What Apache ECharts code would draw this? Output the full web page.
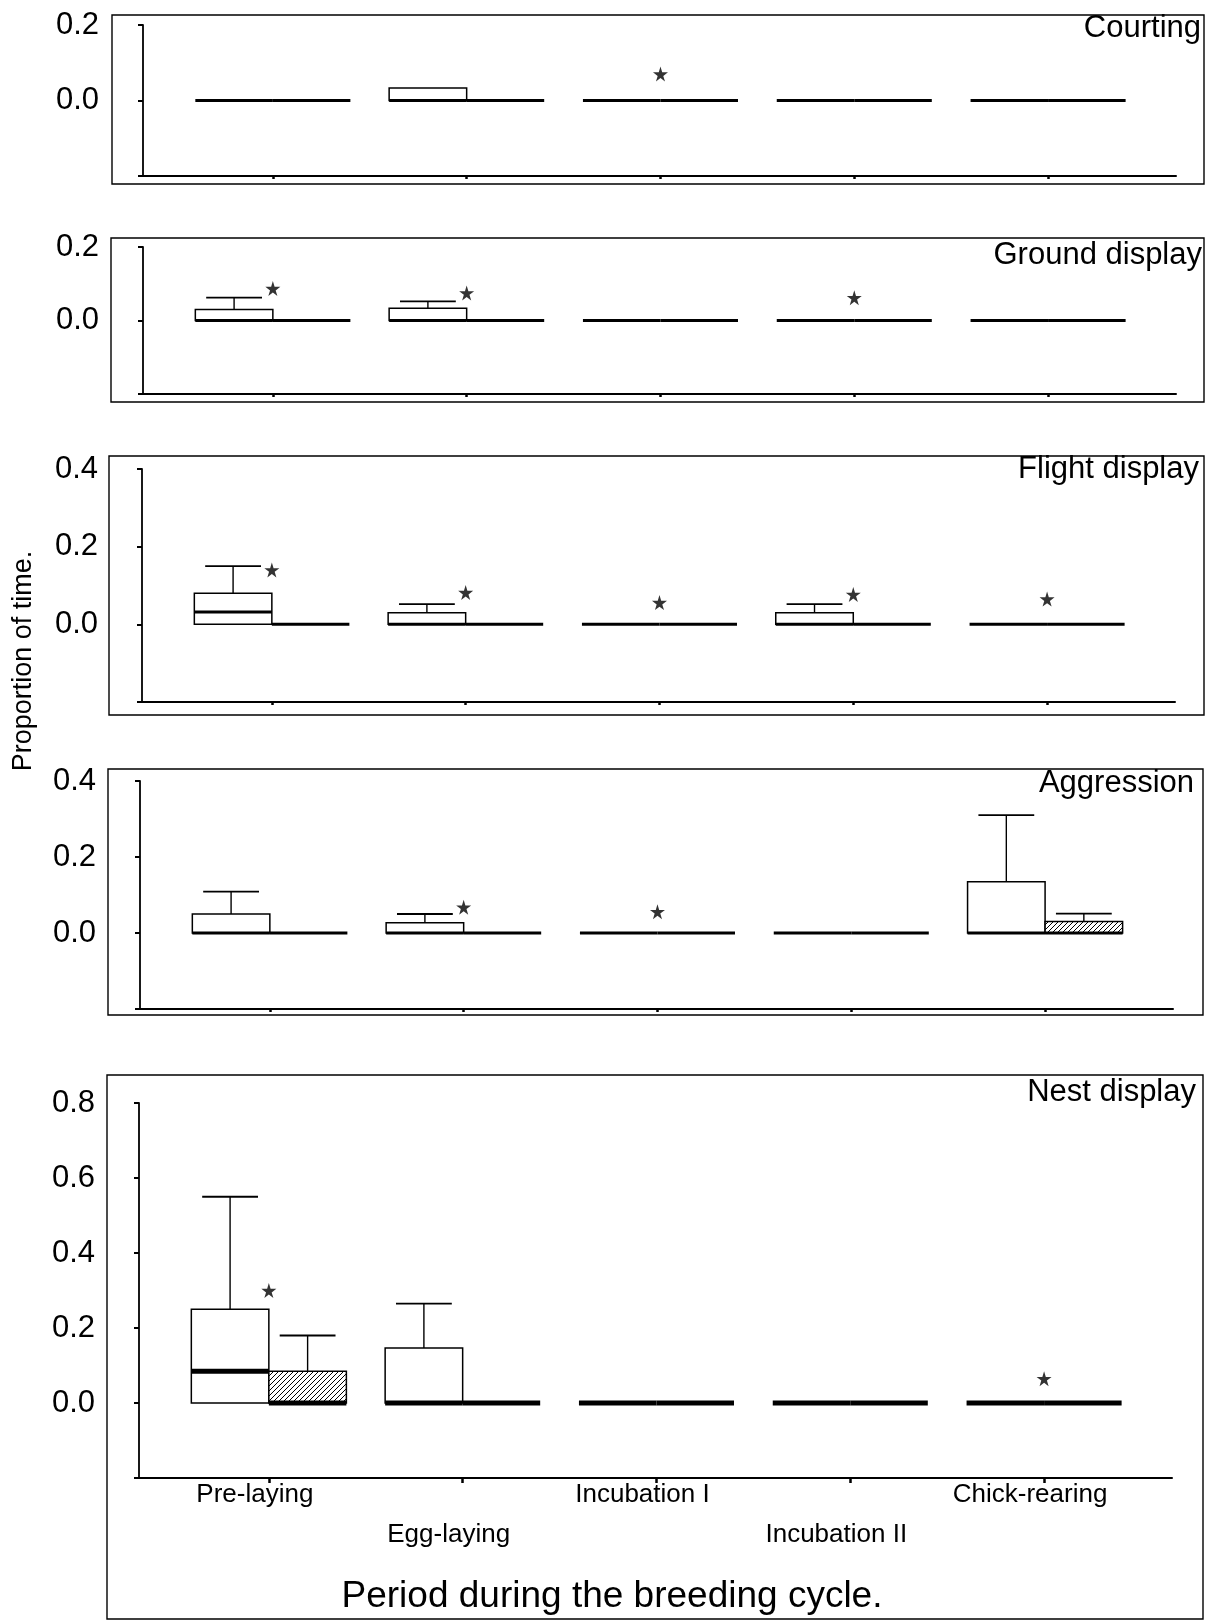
<!DOCTYPE html>
<html>
<head>
<meta charset="UTF-8">
<title>Proportion of time by breeding period</title>
<script src="https://cdn.jsdelivr.net/npm/echarts@6/dist/echarts.min.js"></script>
<style>
  body { margin: 0; background: #fff; }
  #chart { width: 1206px; height: 1621px; }
</style>
</head>
<body>
<div id="chart"></div>
<script>
// ---- data ----
var periods = ['Pre-laying', 'Egg-laying', 'Incubation I', 'Incubation II', 'Chick-rearing'];
var panelTitles = ['Courting', 'Ground display', 'Flight display', 'Aggression', 'Nest display'];
var yMax = [0.2, 0.2, 0.4, 0.4, 0.8];

// one entry per period: [upper quartile, median, upper whisker]  (lower whisker / Q1 = 0)
var courtingMale     = [[0, 0, 0], [0.033, 0, 0.033], [0, 0, 0], [0, 0, 0], [0, 0, 0]];
var courtingFemale   = [[0, 0, 0], [0, 0, 0], [0, 0, 0], [0, 0, 0], [0, 0, 0]];
var courtingStars    = [null, null, 0.07, null, null];

var groundMale       = [[0.03, 0, 0.062], [0.033, 0, 0.052], [0, 0, 0], [0, 0, 0], [0, 0, 0]];
var groundFemale     = [[0, 0, 0], [0, 0, 0], [0, 0, 0], [0, 0, 0], [0, 0, 0]];
var groundStars      = [0.087, 0.075, null, 0.062, null];

var flightMale       = [[0.08, 0.032, 0.15], [0.03, 0, 0.052], [0, 0, 0], [0.03, 0, 0.052], [0, 0, 0]];
var flightFemale     = [[0, 0, 0], [0, 0, 0], [0, 0, 0], [0, 0, 0], [0, 0, 0]];
var flightStars      = [0.14, 0.082, 0.056, 0.077, 0.065];

var aggressionMale   = [[0.05, 0, 0.109], [0.027, 0, 0.05], [0, 0, 0], [0, 0, 0], [0.135, 0, 0.31]];
var aggressionFemale = [[0, 0, 0], [0, 0, 0], [0, 0, 0], [0, 0, 0], [0.03, 0, 0.051]];
var aggressionStars  = [null, 0.068, 0.056, null, null];

var nestMale         = [[0.25, 0.085, 0.55], [0.147, 0, 0.265], [0, 0, 0], [0, 0, 0], [0, 0, 0]];
var nestFemale       = [[0.085, 0, 0.18], [0, 0, 0], [0, 0, 0], [0, 0, 0], [0, 0, 0]];
var nestStars        = [0.30, null, null, null, 0.065];

var maleData   = [courtingMale, groundMale, flightMale, aggressionMale, nestMale];
var femaleData = [courtingFemale, groundFemale, flightFemale, aggressionFemale, nestFemale];
var starData   = [courtingStars, groundStars, flightStars, aggressionStars, nestStars];

// ---- layout (pixels) ----
var layout = [
  { gridLeft: 143, gridTop: 25,   gridH: 151, frame: [112, 15, 1092, 169],  titleX: 1201, titleY: 28,   medW: 3 },
  { gridLeft: 143, gridTop: 247,  gridH: 147, frame: [111, 238, 1093, 164], titleX: 1202, titleY: 255,  medW: 3 },
  { gridLeft: 142, gridTop: 469,  gridH: 233, frame: [109, 456, 1095, 259], titleX: 1199, titleY: 469,  medW: 3 },
  { gridLeft: 140, gridTop: 781,  gridH: 228, frame: [108, 769, 1095, 246], titleX: 1194, titleY: 783,  medW: 3 },
  { gridLeft: 139, gridTop: 1103, gridH: 375, frame: [107, 1075, 1096, 544], titleX: 1196, titleY: 1092, medW: 5 }
];
var FONT = '"Liberation Sans", Arial, sans-serif';

// hatch pattern for the second (hatched) box of each pair
var hatch = document.createElement('canvas');
hatch.width = 5; hatch.height = 5;
(function () {
  var c = hatch.getContext('2d');
  c.fillStyle = '#fff'; c.fillRect(0, 0, 5, 5);
  c.strokeStyle = '#000'; c.lineWidth = 1;
  c.beginPath();
  c.moveTo(0, 5); c.lineTo(5, 0);
  c.moveTo(-1, 1); c.lineTo(1, -1);
  c.moveTo(4, 6); c.lineTo(6, 4);
  c.stroke();
})();

function renderBox(params, api) {
  var period = api.value(0), sex = api.value(1);
  var q3 = api.value(2), med = api.value(3), mx = api.value(4);
  var medW = api.value(5);
  var base = api.coord([period, 0]);
  var cx = base[0], y0 = base[1];
  var w = api.size([0.4, 0])[0];
  var x0 = sex === 0 ? cx - w : cx;
  var yq = api.coord([period, q3])[1];
  var ym = api.coord([period, med])[1];
  var yx = api.coord([period, mx])[1];
  var bx = x0 + w / 2;
  var children = [];
  if (mx > q3) {
    children.push({ type: 'line', shape: { x1: bx, y1: yq, x2: bx, y2: yx }, style: { stroke: '#000', lineWidth: 1.4 } });
    children.push({ type: 'line', shape: { x1: bx - w * 0.36, y1: yx, x2: bx + w * 0.36, y2: yx }, style: { stroke: '#000', lineWidth: 1.8 } });
  }
  if (q3 > 0) {
    children.push({
      type: 'rect', shape: { x: x0, y: yq, width: w, height: y0 - yq },
      style: { fill: sex === 0 ? '#fff' : { image: hatch, repeat: 'repeat' }, stroke: '#000', lineWidth: 1.5 }
    });
  }
  children.push({ type: 'line', shape: { x1: x0, y1: ym, x2: x0 + w, y2: ym }, style: { stroke: '#000', lineWidth: medW, lineCap: 'butt' } });
  return { type: 'group', children: children };
}

var chart = echarts.init(document.getElementById('chart'), null, { renderer: 'canvas' });

var grids = [], xAxes = [], yAxes = [], series = [], graphics = [];
var ticks = [1, 2, 3, 4, 5];
var starPath = 'path://M50,0 L61,35 L98,35 L68,57 L79,91 L50,70 L21,91 L32,57 L2,35 L39,35 Z';

layout.forEach(function (L, i) {
  var last = i === layout.length - 1;
  grids.push({ left: L.gridLeft, top: L.gridTop, width: 1033, height: L.gridH, containLabel: false });
  xAxes.push({
    type: 'value', gridIndex: i, min: 0.33, max: 5.66,
    splitLine: { show: false },
    axisLine: { show: true, onZero: false, lineStyle: { color: '#000', width: 2 } },
    axisTick: { show: true, customValues: ticks, length: last ? 5 : 3, lineStyle: { color: '#000', width: 2.5 } },
    axisLabel: {
      show: last, customValues: ticks, color: '#000', fontFamily: FONT, fontSize: 26,
      lineHeight: 40, margin: -3, padding: [0, 28, 0, 0],
      formatter: function (v) {
        var k = Math.round(v) - 1;
        return k % 2 ? '\n' + periods[k] : periods[k];
      }
    }
  });
  yAxes.push({
    type: 'value', gridIndex: i, min: -0.2, max: yMax[i], interval: 0.2,
    splitLine: { show: false },
    axisLine: { show: true, onZero: false, lineStyle: { color: '#000', width: 1.8 } },
    axisTick: { show: true, length: 5, lineStyle: { color: '#000', width: 2 } },
    axisLabel: {
      color: '#000', fontFamily: FONT, fontSize: 31, margin: 44,
      formatter: function (v) { return v < -0.01 ? '' : Math.abs(v).toFixed(1); }
    }
  });

  var boxes = [];
  maleData[i].forEach(function (d, k) { boxes.push([k + 1, 0, d[0], d[1], d[2], L.medW]); });
  femaleData[i].forEach(function (d, k) { boxes.push([k + 1, 1, d[0], d[1], d[2], L.medW]); });
  series.push({
    type: 'custom', xAxisIndex: i, yAxisIndex: i, renderItem: renderBox,
    data: boxes, silent: true, animation: false
  });

  var stars = [];
  starData[i].forEach(function (s, k) { if (s !== null) stars.push([k + 1, s]); });
  series.push({
    type: 'scatter', xAxisIndex: i, yAxisIndex: i, data: stars,
    symbol: starPath, symbolSize: 15, itemStyle: { color: '#000' }, silent: true, animation: false
  });

  graphics.push({
    type: 'rect', shape: { x: L.frame[0], y: L.frame[1], width: L.frame[2], height: L.frame[3] },
    style: { fill: null, stroke: '#000', lineWidth: 1.4 }, silent: true
  });
  graphics.push({
    type: 'text', x: L.titleX, y: L.titleY,
    style: { text: panelTitles[i], fill: '#000', font: '31px ' + FONT, textAlign: 'right', textVerticalAlign: 'middle' }
  });
});

graphics.push({
  type: 'text', x: 24, y: 661, rotation: Math.PI / 2,
  style: { text: 'Proportion of time.', fill: '#000', font: '27px ' + FONT, textAlign: 'center', textVerticalAlign: 'middle' }
});
graphics.push({
  type: 'text', x: 612, y: 1597,
  style: { text: 'Period during the breeding cycle.', fill: '#000', font: '37px ' + FONT, textAlign: 'center', textVerticalAlign: 'middle' }
});

chart.setOption({
  animation: false,
  backgroundColor: '#fff',
  grid: grids,
  xAxis: xAxes,
  yAxis: yAxes,
  series: series,
  graphic: graphics
});
</script>
</body>
</html>
